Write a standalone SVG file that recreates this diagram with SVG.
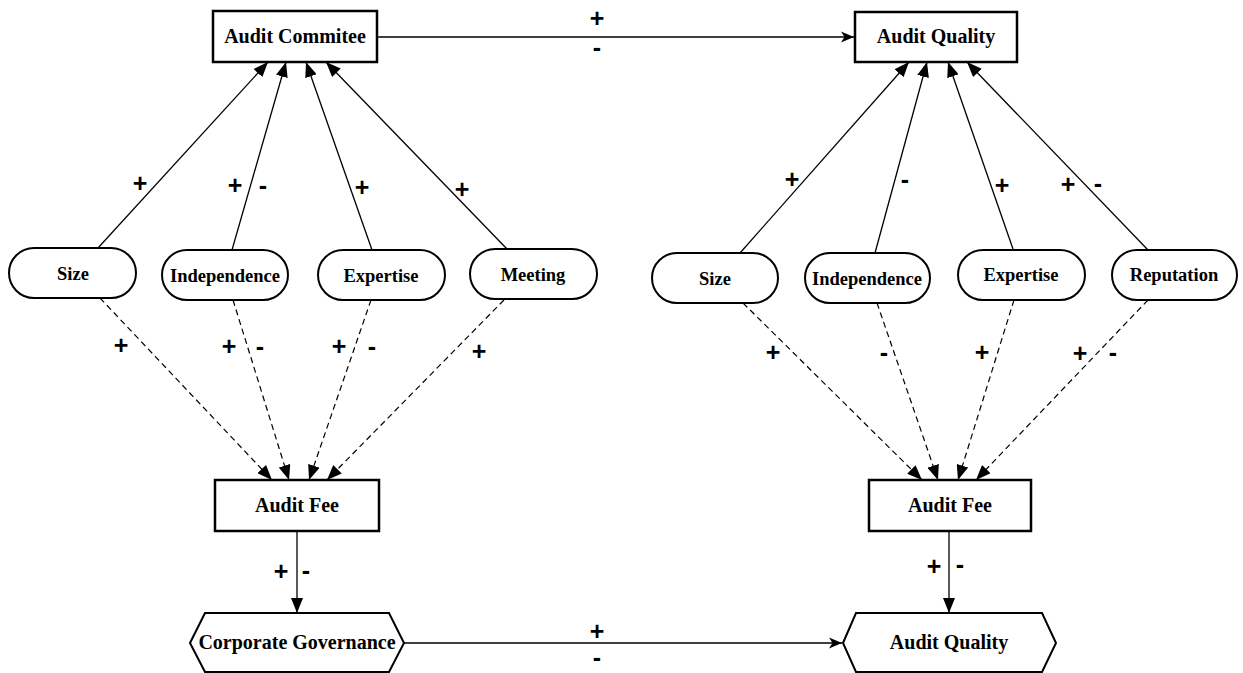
<svg xmlns="http://www.w3.org/2000/svg" width="1243" height="673" viewBox="0 0 1243 673">
<style>
.box{fill:#fff;stroke:#000;stroke-width:2.5}
.oval{fill:#fff;stroke:#000;stroke-width:2}
.nt{font-family:"Liberation Serif","Times New Roman",serif;font-weight:bold;font-size:20px;text-anchor:middle;fill:#000}
.ot{font-family:"Liberation Serif","Times New Roman",serif;font-weight:bold;font-size:18.5px;text-anchor:middle;fill:#000}
.lb{font-family:"Liberation Sans",Arial,sans-serif;font-weight:bold;font-size:25px;text-anchor:middle;fill:#000}
.s{stroke:#000;stroke-width:1.3;fill:none;marker-end:url(#tri)}
.d{stroke:#000;stroke-width:1.2;fill:none;stroke-dasharray:6 4;marker-end:url(#tri)}
.h{stroke:#000;stroke-width:1.3;fill:none;marker-end:url(#open)}
</style>
<defs>
<marker id="tri" markerUnits="userSpaceOnUse" markerWidth="16" markerHeight="12" refX="15" refY="6" orient="auto" viewBox="0 0 16 12">
<path d="M0,0 L15,6 L0,12 z" fill="#000" stroke="none"/>
</marker>
<marker id="open" markerUnits="userSpaceOnUse" markerWidth="14" markerHeight="12" refX="13" refY="6" orient="auto" viewBox="0 0 14 12">
<path d="M0,0.5 L13,6 L0,11.5 L3.5,6 z" fill="#000" stroke="none"/>
</marker>
</defs>

<g id="connectors">
<line class="h" x1="377" y1="37" x2="854" y2="37"/>
<line class="s" x1="98" y1="248" x2="268" y2="62"/>
<line class="s" x1="232" y1="250" x2="286" y2="62"/>
<line class="s" x1="372" y1="250" x2="306" y2="62"/>
<line class="s" x1="507" y1="249" x2="326" y2="62"/>
<line class="s" x1="740" y1="253" x2="909" y2="62"/>
<line class="s" x1="875" y1="253" x2="927" y2="62"/>
<line class="s" x1="1013" y1="249" x2="948" y2="62"/>
<line class="s" x1="1148" y1="250" x2="967" y2="62"/>
<line class="d" x1="100" y1="298" x2="272" y2="480"/>
<line class="d" x1="233" y1="300" x2="289" y2="480"/>
<line class="d" x1="371" y1="300" x2="309" y2="480"/>
<line class="d" x1="504" y1="300" x2="327" y2="480"/>
<line class="d" x1="743" y1="303" x2="922" y2="480"/>
<line class="d" x1="877" y1="303" x2="938" y2="480"/>
<line class="d" x1="1014" y1="300" x2="958" y2="480"/>
<line class="d" x1="1148" y1="300" x2="976" y2="480"/>
<line class="s" x1="297" y1="531" x2="297" y2="613"/>
<line class="s" x1="949" y1="531" x2="949" y2="613"/>
<line class="h" x1="404" y1="643" x2="842" y2="643"/>
</g>

<g id="labels">
<text class="lb" x="597" y="27">+</text>
<text class="lb" x="597" y="56">-</text>
<text class="lb" x="140" y="192">+</text>
<text class="lb" x="235" y="194">+</text>
<text class="lb" x="263" y="194">-</text>
<text class="lb" x="362" y="196">+</text>
<text class="lb" x="462" y="198">+</text>
<text class="lb" x="792" y="188">+</text>
<text class="lb" x="905" y="188">-</text>
<text class="lb" x="1002" y="194">+</text>
<text class="lb" x="1068" y="193">+</text>
<text class="lb" x="1098" y="192">-</text>
<text class="lb" x="121" y="354">+</text>
<text class="lb" x="229" y="355">+</text>
<text class="lb" x="260" y="355">-</text>
<text class="lb" x="339" y="355">+</text>
<text class="lb" x="372" y="355">-</text>
<text class="lb" x="479" y="360">+</text>
<text class="lb" x="773" y="361">+</text>
<text class="lb" x="884" y="361">-</text>
<text class="lb" x="982" y="361">+</text>
<text class="lb" x="1080" y="362">+</text>
<text class="lb" x="1113" y="361">-</text>
<text class="lb" x="281" y="580">+</text>
<text class="lb" x="306" y="579">-</text>
<text class="lb" x="934" y="575">+</text>
<text class="lb" x="960" y="573">-</text>
<text class="lb" x="597" y="640">+</text>
<text class="lb" x="597" y="666">-</text>
</g>

<g id="audit-commitee">
<rect class="box" x="213" y="11" width="164" height="51"/>
<text class="nt" x="295" y="43">Audit Commitee</text>
</g>
<g id="audit-quality-top">
<rect class="box" x="855" y="12" width="162" height="50"/>
<text class="nt" x="936" y="43">Audit Quality</text>
</g>

<g id="size-left">
<rect class="oval" x="9" y="248" width="127" height="50" rx="25"/>
<text class="ot" x="73" y="280">Size</text>
</g>
<g id="independence-left">
<rect class="oval" x="162" y="250" width="126" height="50" rx="25"/>
<text class="ot" x="225" y="282">Independence</text>
</g>
<g id="expertise-left">
<rect class="oval" x="318" y="250" width="127" height="50" rx="25"/>
<text class="ot" x="381" y="282">Expertise</text>
</g>
<g id="meeting-left">
<rect class="oval" x="470" y="249" width="127" height="50" rx="25"/>
<text class="ot" x="533" y="281">Meeting</text>
</g>

<g id="size-right">
<rect class="oval" x="652" y="253" width="126" height="50" rx="25"/>
<text class="ot" x="715" y="285">Size</text>
</g>
<g id="independence-right">
<rect class="oval" x="805" y="253" width="125" height="50" rx="25"/>
<text class="ot" x="867" y="285">Independence</text>
</g>
<g id="expertise-right">
<rect class="oval" x="958" y="250" width="127" height="50" rx="25"/>
<text class="ot" x="1021" y="281">Expertise</text>
</g>
<g id="reputation-right">
<rect class="oval" x="1112" y="250" width="125" height="50" rx="25"/>
<text class="ot" x="1174" y="281">Reputation</text>
</g>

<g id="audit-fee-left">
<rect class="box" x="215" y="480" width="164" height="51"/>
<text class="nt" x="297" y="512">Audit Fee</text>
</g>
<g id="audit-fee-right">
<rect class="box" x="869" y="480" width="162" height="51"/>
<text class="nt" x="950" y="512">Audit Fee</text>
</g>

<g id="corporate-governance">
<polygon class="oval" points="190,643 205,613 389,613 404,643 389,672 205,672"/>
<text class="nt" x="297" y="649">Corporate Governance</text>
</g>
<g id="audit-quality-bottom">
<polygon class="oval" points="843,643 856,613 1042,613 1056,643 1042,672 856,672"/>
<text class="nt" x="949" y="649">Audit Quality</text>
</g>
</svg>
